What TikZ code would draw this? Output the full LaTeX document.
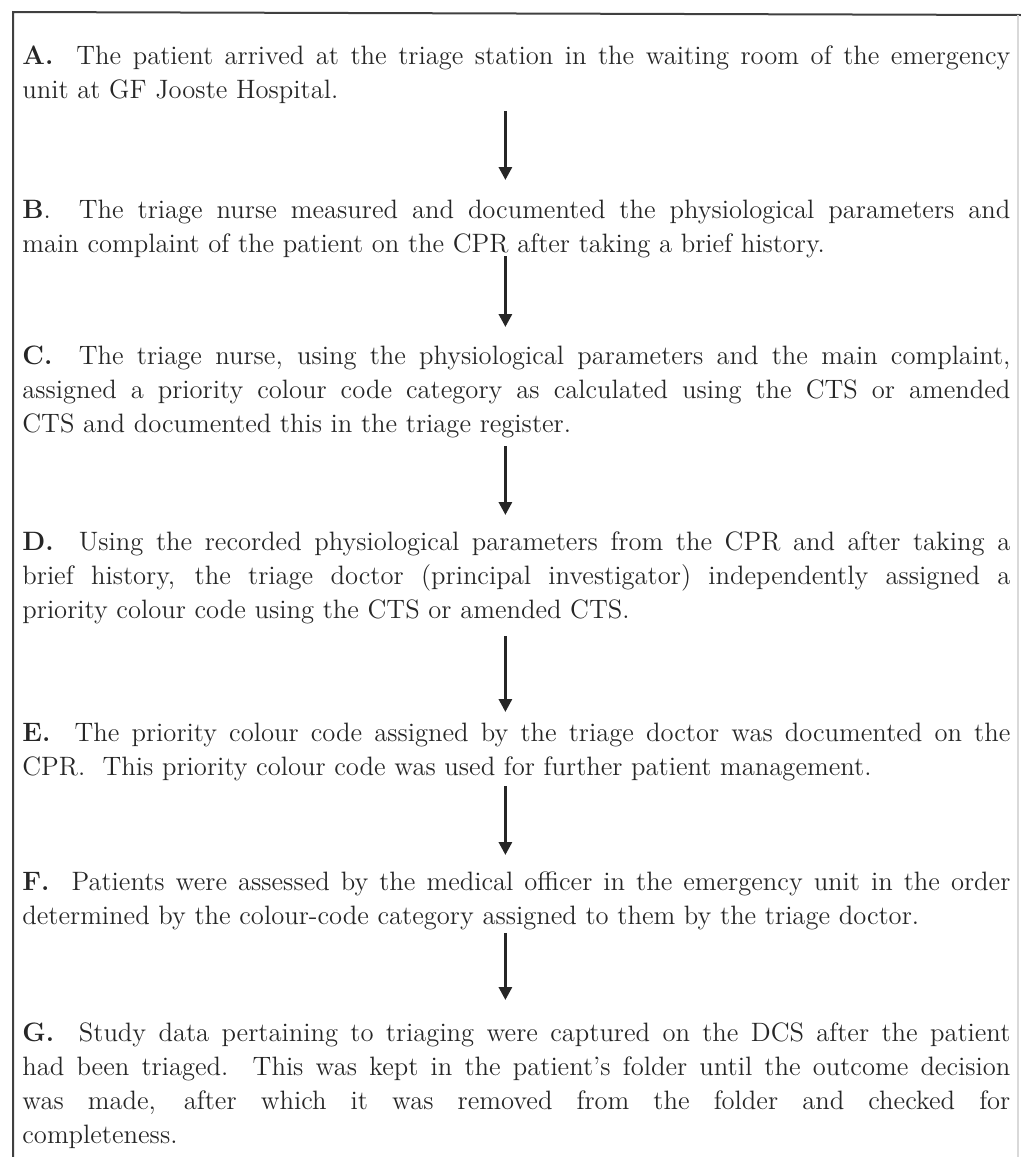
\documentclass[tikz,border=0pt]{standalone}
\usepackage{tikz}
\usetikzlibrary{arrows.meta}
\tikzset{
  stepbox/.style={anchor=north west,inner sep=0pt,text width=494pt,align=justify,
    font=\fontsize{13.3}{17}\selectfont,text=black!85},
  flow/.style={-{Triangle[width=6.5pt,length=6.5pt]},line width=1.5pt,black!85},
  framel/.style={line width=1pt,black!75},
}

\begin{document}
\begin{tikzpicture}[x=0.5pt,y=-0.5pt]
  \useasboundingbox (0,0) rectangle (1021,1157);
  % frame
  \draw[framel] (13,1157) -- (13,12) -- (1021,15);
  \draw[framel,black!15] (1018,15) -- (1018,1157);
  % steps
  \node[stepbox] (A) at (22,40) {\strut\textbf{A.}\ \ The patient arrived at the triage station in the waiting room of the emergency\linebreak
    unit at GF Jooste Hospital.\strut};
  \node[stepbox] (B) at (22,194) {\strut\textbf{B}.\ \ The triage nurse measured and documented the physiological parameters and\linebreak
    main complaint of the patient on the CPR after taking a brief history.\strut};
  \node[stepbox] (C) at (22,340) {\strut\textbf{C.}\ \ The triage nurse, using the physiological parameters and the main complaint,\linebreak
    assigned a priority colour code category as calculated using the CTS or amended\linebreak
    CTS and documented this in the triage register.\strut};
  \node[stepbox] (D) at (22,526) {\strut\textbf{D.}\ \ Using the recorded physiological parameters from the CPR and after taking a\linebreak
    brief history, the triage doctor (principal investigator) independently assigned a\linebreak
    priority colour code using the CTS or amended CTS.\strut};
  \node[stepbox] (E) at (22,717) {\strut\textbf{E.}\ \ The priority colour code assigned by the triage doctor was documented on the\linebreak
    CPR.\ \ This priority colour code was used for further patient management.\strut};
  \node[stepbox] (F) at (22,866) {\strut\textbf{F.}\ \ Patients were assessed by the medical officer in the emergency unit in the order\linebreak
    determined by the colour-code category assigned to them by the triage doctor.\strut};
  \node[stepbox] (G) at (22,1017) {\strut\textbf{G.}\ \ Study data pertaining to triaging were captured on the DCS after the patient\linebreak
    had been triaged.\ \ This was kept in the patient's folder until the outcome decision\linebreak
    was made, after which it was removed from the folder and checked for\linebreak
    completeness.\strut};
  % arrows
  \foreach \a/\b/\s/\e in {A/B/1pt/7pt, B/C/-3.5pt/6.5pt, C/D/1.5pt/5.5pt,
                           D/E/3.5pt/2.5pt, E/F/0pt/5.5pt, F/G/-1pt/8.5pt}
    \draw[flow,shorten <=\s,shorten >=\e] ([xshift=-5.5pt]\a.south) -- ([xshift=-5.5pt]\b.north);
\end{tikzpicture}
\end{document}
